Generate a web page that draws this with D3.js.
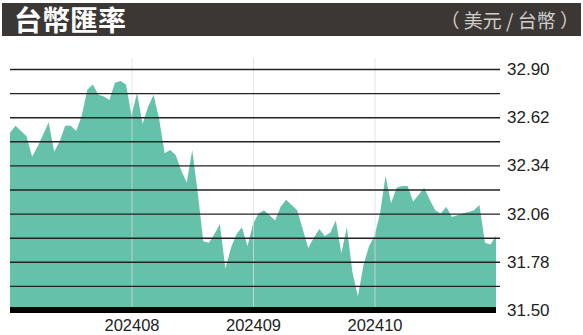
<!DOCTYPE html>
<html>
<head>
<meta charset="utf-8">
<script src="https://cdn.jsdelivr.net/npm/d3@7"></script>
<style>
  body { margin: 0; background: #fff; }
  svg { display: block; }
  .ylab text { font-family: "Liberation Sans", Arial, sans-serif; font-size: 17px; fill: #222; }
  .xlab text { font-family: "Liberation Sans", Arial, sans-serif; font-size: 16.5px; fill: #222; }
</style>
</head>
<body>
<svg class="chart" width="583" height="335"></svg>
<script>
// daily USD/TWD, Jul - Oct 2024 (weekdays)
let rates = [
	32.53, 32.57, 32.54, 32.51, 32.39, 32.45, 32.52, 32.59, 32.42, 32.48,
	32.57, 32.57, 32.54, 32.63, 32.78, 32.81, 32.75, 32.74, 32.72, 32.82,
	32.83, 32.81, 32.63, 32.76, 32.58, 32.68, 32.75, 32.61, 32.41, 32.43,
	32.40, 32.31, 32.24, 32.43, 32.18, 31.90, 31.89, 31.94, 32.00, 31.74,
	31.86, 31.94, 31.98, 31.87, 32.00, 32.06, 32.08, 32.05, 32.02, 32.10,
	32.14, 32.11, 32.08, 31.97, 31.86, 31.92, 31.97, 31.93, 31.95, 32.02,
	31.83, 31.98, 31.72, 31.58, 31.76, 31.87, 31.93, 32.06, 32.28, 32.12,
	32.21, 32.22, 32.22, 32.13, 32.17, 32.21, 32.14, 32.08, 32.06, 32.10,
	32.04, 32.05, 32.06, 32.07, 32.08, 32.11, 31.89, 31.88, 31.93
];
let months = ['202408', '202409', '202410'];
let monthStart = [22, 44, 66];
let gridValues = [31.50, 31.64, 31.78, 31.92, 32.06, 32.20, 32.34, 32.48, 32.62, 32.76, 32.90];
let labelValues = [31.50, 31.78, 32.06, 32.34, 32.62, 32.90];

let title = "台幣匯率";
let unit = "（ 美元 / 台幣 ）";

var svg = d3.select(".chart");
var width = +svg.attr('width');

let plot = {left: 10, right: 496, top: 69, bottom: 310};

var xScale = d3.scaleLinear()
	.domain([0, rates.length - 1])
	.range([plot.left, plot.right]);

var yScale = d3.scaleLinear()
	.domain([31.50, 32.90])
	.range([plot.bottom, plot.top]);

// header bar
svg.append("rect")
	.attr("x", 2).attr("y", 3)
	.attr("width", width - 4).attr("height", 33)
	.attr("fill", "#3b3735");

svg.append("text")
	.attr("x", 14).attr("y", 31)
	.attr("font-family", "'Noto Sans CJK TC', sans-serif")
	.attr("font-weight", "bold")
	.attr("font-size", 28)
	.attr("fill", "#fff")
	.text(title);

svg.append("text")
	.attr("x", 579).attr("y", 28)
	.attr("text-anchor", "end")
	.attr("font-family", "'Noto Sans CJK TC', sans-serif")
	.attr("font-size", 19)
	.attr("fill", "#d0cdcb")
	.text(unit);

// area
svg.append("path")
	.datum(rates)
	.attr("fill", "#65c1aa")
	.attr("d", d3.area()
		.x((d, i) => xScale(i))
		.y0(yScale(31.50))
		.y1(d => yScale(d)));

// month lines + labels
let xAxis = d3.axisBottom(xScale)
	.tickValues(monthStart)
	.tickFormat((d, i) => months[i])
	.tickSizeInner(-(plot.bottom - 58))
	.tickSizeOuter(0)
	.tickPadding(9);

let gx = svg.append("g")
	.attr("class", "xlab")
	.attr("transform", `translate(0, ${plot.bottom})`)
	.call(xAxis);
gx.select(".domain").remove();
gx.selectAll("line")
	.attr("stroke", "#dcdcdc")
	.attr("stroke-opacity", 0.75)
	.attr("stroke-width", 1);

// horizontal grid + labels
let yAxis = d3.axisRight(yScale)
	.tickValues(gridValues)
	.tickFormat(d => labelValues.some(v => Math.abs(v - d) < 1e-6) ? d.toFixed(2) : "")
	.tickSizeInner(-(500 - plot.left))
	.tickSizeOuter(0)
	.tickPadding(7);

let gy = svg.append("g")
	.attr("class", "ylab")
	.attr("transform", "translate(500, 0)")
	.call(yAxis);
gy.select(".domain").remove();
gy.selectAll("line")
	.attr("stroke", "#222")
	.attr("stroke-width", 1.4);
gy.selectAll(".tick")
	.filter(d => d === 31.50)
	.select("line").remove();

// base bar
svg.append("line")
	.attr("x1", plot.left).attr("x2", plot.right)
	.attr("y1", yScale(31.50)).attr("y2", yScale(31.50))
	.attr("stroke", "#000")
	.attr("stroke-width", 6);
</script>
</body>
</html>
